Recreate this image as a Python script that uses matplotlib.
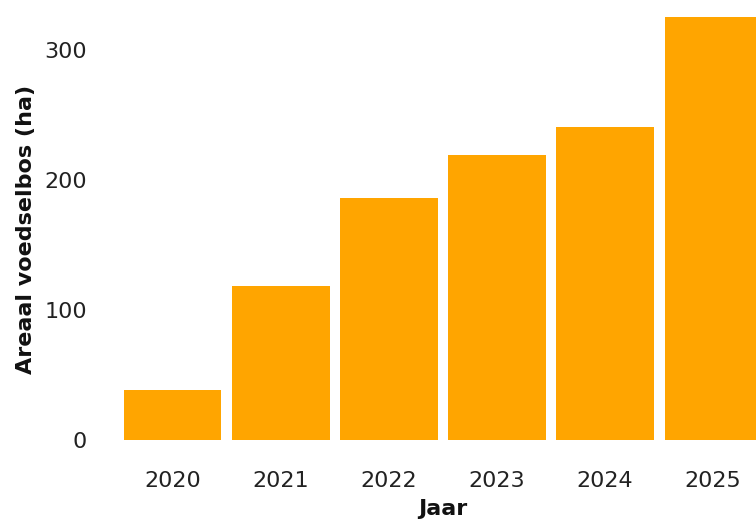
import matplotlib.pyplot as plt
import numpy as np

jaren = ['2020', '2021', '2022', '2023', '2024', '2025']
areaal = [38, 118, 186, 219, 241, 325]

fig = plt.figure(figsize=(7.56, 5.19), dpi=100)
# axes runs past the right and bottom edge, like the cropped original
ax = fig.add_axes([108/756, (519-461)/519, (778-108)/756, 463/519])

x = np.arange(len(jaren))
ax.bar(x, areaal, width=0.9, color='#FFA500')

ax.set_xlim(-0.6, 5.6)
ax.set_ylim(-16.5, 340)
ax.set_xticks(x)
ax.set_xticklabels(jaren)
ax.set_yticks([0, 100, 200, 300])

for s in ax.spines.values():
    s.set_visible(False)
ax.tick_params(axis='both', length=0, labelsize=16, labelcolor='#222222')
ax.tick_params(axis='x', pad=7)
ax.tick_params(axis='y', pad=15)

ax.set_xlabel('Jaar', fontsize=16, fontweight='bold', color='#111111')
ax.xaxis.set_label_coords(0.5, -0.082)
ax.set_ylabel('Areaal voedselbos (ha)', fontsize=16, fontweight='bold', color='#111111')
ax.yaxis.set_label_coords(-0.108, 0.5)

fig.savefig('out.png', dpi=100)
